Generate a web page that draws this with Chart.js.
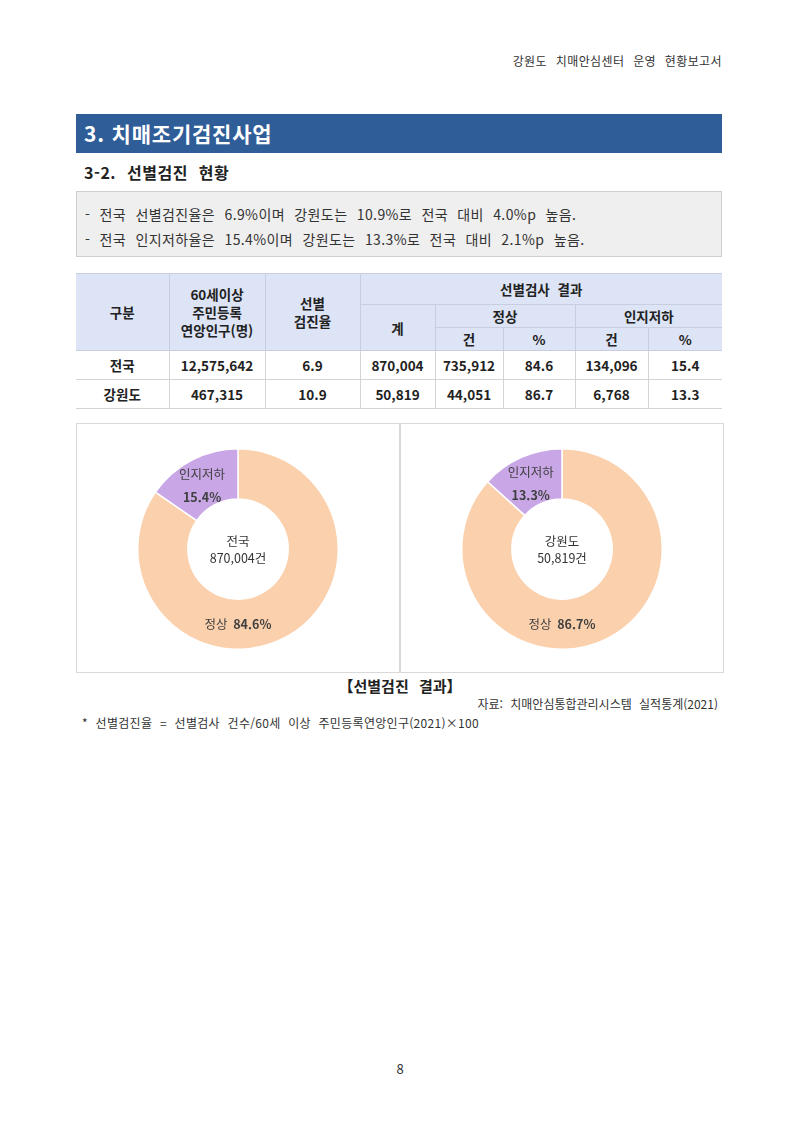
<!DOCTYPE html>
<html lang="ko">
<head>
<meta charset="utf-8">
<script src="https://cdn.jsdelivr.net/npm/chart.js@4"></script>
<style>
  body { margin: 0; background: #fff; font-family: "Noto Sans CJK KR", "Noto Sans", sans-serif; color: #222; }
  .page { position: relative; width: 800px; height: 1131px; }
  .abs { position: absolute; }
  .hdr { right: 78px; top: 52px; font-size: 12px; color: #333; word-spacing: 5px; letter-spacing: 0.4px; }
  .bar { left: 76px; top: 114px; width: 646px; height: 39px; background: #2f5d97; color: #fff; font-size: 21px; font-weight: 700; line-height: 39px; padding-left: 8px; box-sizing: border-box; letter-spacing: 0.8px; }
  .sub { left: 84px; top: 160px; font-size: 16px; font-weight: 700; word-spacing: 6px; letter-spacing: 0.5px; }
  .box { left: 76px; top: 191px; width: 646px; height: 66px; background: #efefef; border: 1px solid #cfcfcf; box-sizing: border-box; font-size: 14px; color: #333; padding: 10px 0 0 8px; line-height: 25px; word-spacing: 5px; letter-spacing: 0.4px; }
  table { position: absolute; left: 76px; top: 273px; width: 646px; border-collapse: collapse; font-size: 13.5px; font-weight: 700; text-align: center; }
  th { background: #dde4f6; border: 1px solid #c8cee0; font-weight: 700; padding: 0; line-height: 18px; word-spacing: 4px; }
  td { border: 1px solid #d4d4d4; height: 28px; padding: 0; }
  tr > :first-child { border-left: none; }
  tr > :last-child { border-right: none; }
  .panel { top: 423px; width: 324px; height: 250px; border: 1px solid #d9d9d9; box-sizing: border-box; }
  .cap { left: 0; width: 800px; top: 675px; text-align: center; font-size: 15px; font-weight: 700; word-spacing: 6px; }
  .src { right: 82px; top: 695px; font-size: 12px; color: #333; word-spacing: 4px; }
  .note { left: 82px; top: 714px; font-size: 12px; color: #333; word-spacing: 4px; letter-spacing: 0.3px; }
  .pg { left: 0; width: 800px; top: 1059px; text-align: center; font-size: 13px; color: #333; }
</style>
</head>
<body>
<div class="page">
  <div class="abs hdr">강원도 치매안심센터 운영 현황보고서</div>
  <div class="abs bar">3. 치매조기검진사업</div>
  <div class="abs sub">3-2. 선별검진 현황</div>
  <div class="abs box">- 전국 선별검진율은 6.9%이며 강원도는 10.9%로 전국 대비 4.0%p 높음.<br>- 전국 인지저하율은 15.4%이며 강원도는 13.3%로 전국 대비 2.1%p 높음.</div>
  <table id="tbl">
    <colgroup>
      <col style="width:93px"><col style="width:96px"><col style="width:95px"><col style="width:75px">
      <col style="width:68px"><col style="width:72px"><col style="width:73px"><col style="width:74px">
    </colgroup>
    <tr style="height:31px">
      <th rowspan="3">구분</th><th rowspan="3">60세이상<br>주민등록<br>연앙인구(명)</th><th rowspan="3">선별<br>검진율</th>
      <th colspan="5">선별검사 결과</th>
    </tr>
    <tr style="height:23px"><th rowspan="2">계</th><th colspan="2">정상</th><th colspan="2">인지저하</th></tr>
    <tr style="height:23px"><th>건</th><th>%</th><th>건</th><th>%</th></tr>
  </table>
  <div class="abs panel" style="left:76px"><canvas id="c0" width="322" height="248"></canvas></div>
  <div class="abs panel" style="left:400px"><canvas id="c1" width="322" height="248"></canvas></div>
  <div class="abs cap">【선별검진 결과】</div>
  <div class="abs src">자료: 치매안심통합관리시스템 실적통계(2021)</div>
  <div class="abs note">* 선별검진율 = 선별검사 건수/60세 이상 주민등록연앙인구(2021)×100</div>
  <div class="abs pg">8</div>
</div>
<script>
// 표와 차트 데이터
const regions = ['전국', '강원도'];
const population = ['12,575,642', '467,315'];
const screenRate = ['6.9', '10.9'];
const totalCount = ['870,004', '50,819'];
const normalCount = ['735,912', '44,051'];
const normalPct = [84.6, 86.7];
const declineCount = ['134,096', '6,768'];
const declinePct = [15.4, 13.3];
const sliceLabels = ['정상', '인지저하'];
const sliceColors = ['#fbd0ac', '#c9a7e6'];

// table body rows
const tbl = document.getElementById('tbl');
regions.forEach((r, i) => {
    const tr = document.createElement('tr');
    [r, population[i], screenRate[i], totalCount[i], normalCount[i], normalPct[i].toFixed(1), declineCount[i], declinePct[i].toFixed(1)]
        .forEach(v => {
            const td = document.createElement('td');
            td.textContent = v;
            tr.appendChild(td);
        });
    tbl.appendChild(tr);
});

// labels inside the ring + center text
const ringLabels = {
    id: 'ringLabels',
    afterDatasetsDraw(chart, args, opts) {
        const ctx = chart.ctx;
        const meta = chart.getDatasetMeta(0);
        const vals = chart.data.datasets[0].data;
        const fnt = '12.5px "Noto Sans CJK KR"';
        const bold = 'bold 12.5px "Noto Sans CJK KR"';
        ctx.save();
        ctx.textBaseline = 'middle';
        ctx.fillStyle = '#404040';
        meta.data.forEach((arc, i) => {
            const mid = (arc.innerRadius + arc.outerRadius) / 2;
            const pct = vals[i].toFixed(1) + '%';
            if (i === 0) {
                // normal label sits at bottom of ring
                const y = arc.y + mid;
                ctx.font = fnt;
                const w1 = ctx.measureText(sliceLabels[i] + '  ').width;
                ctx.font = bold;
                const w2 = ctx.measureText(pct).width;
                const x0 = arc.x - (w1 + w2) / 2;
                ctx.textAlign = 'left';
                ctx.font = fnt;
                ctx.fillText(sliceLabels[i] + '  ', x0, y);
                ctx.font = bold;
                ctx.fillText(pct, x0 + w1, y);
            } else {
                const a = (arc.startAngle + arc.endAngle) / 2;
                const x = arc.x + Math.cos(a) * (mid + 2);
                const y = arc.y + Math.sin(a) * (mid + 2) + 6;
                ctx.textAlign = 'center';
                ctx.font = fnt;
                ctx.fillText(sliceLabels[i], x, y - 12);
                ctx.font = bold;
                ctx.fillText(pct, x, y + 11);
            }
        });
        const arc0 = meta.data[0];
        ctx.textAlign = 'center';
        ctx.font = fnt;
        ctx.fillStyle = '#333';
        ctx.fillText(opts.title, arc0.x, arc0.y - 8);
        ctx.fillText(opts.total, arc0.x, arc0.y + 9);
        ctx.restore();
    }
};

regions.forEach((r, i) => {
    new Chart(document.getElementById('c' + i), {
        type: 'doughnut',
        data: {
            labels: sliceLabels,
            datasets: [{
                data: [normalPct[i], declinePct[i]],
                backgroundColor: sliceColors,
                borderColor: '#fff',
                borderWidth: 1.5
            }]
        },
        options: {
            responsive: false,
            animation: false,
            cutout: '50%',
            layout: { padding: { top: 24, bottom: 22 } },
            plugins: {
                legend: { display: false },
                tooltip: { enabled: false },
                ringLabels: { title: r, total: totalCount[i] + '건' }
            }
        },
        plugins: [ringLabels]
    });
});
</script>
</body>
</html>
